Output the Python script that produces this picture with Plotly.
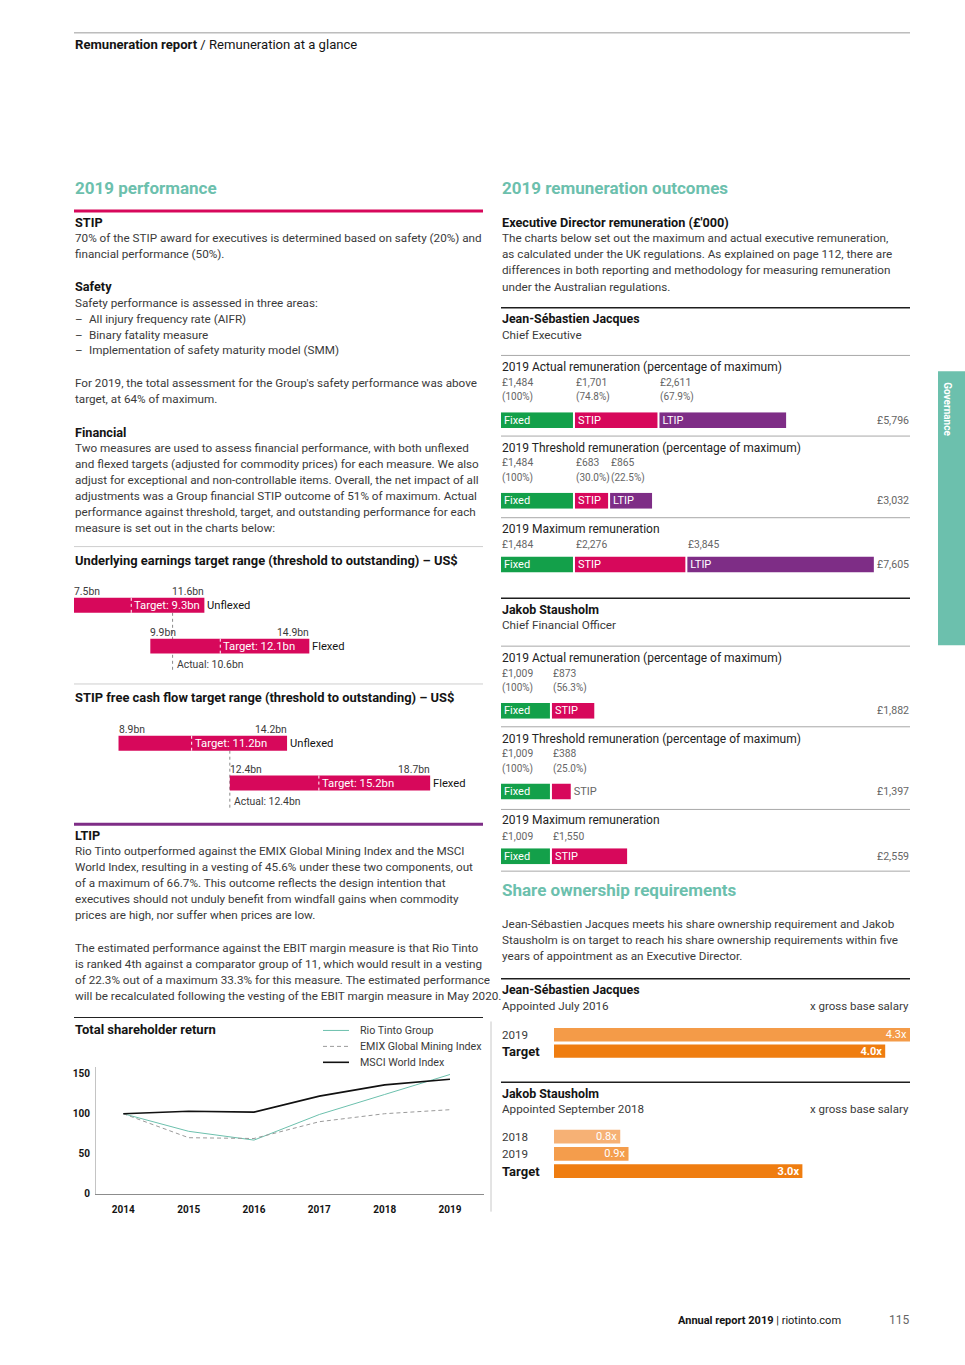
import plotly.graph_objects as go

W, H = 965, 1365
FONT = "Roboto"
BODY = "#3a3a3a"
DARK = "#141414"
GREY = "#666666"
RULE_GREY = "#a8a8a8"
TEAL = "#6cc0ad"
MAG = "#d7085b"
PURP = "#7e2d86"
GREEN = "#13a04a"
BS = 11.7   # body font size
HS = 12.7   # bold heading size

# ---------------- data ----------------
ue_cats = ["Unflexed", "Flexed"]
ue_threshold = [7.5, 9.9]
ue_target = [9.3, 12.1]
ue_outstanding = [11.6, 14.9]
ue_actual = 10.6

fcf_cats = ["Unflexed", "Flexed"]
fcf_threshold = [8.9, 12.4]
fcf_target = [11.2, 15.2]
fcf_outstanding = [14.2, 18.7]
fcf_actual = 12.4

tsr_years = [2014, 2015, 2016, 2017, 2018, 2019]
tsr_rio = [100, 78, 67, 99, 124, 149]
tsr_emix = [100, 70, 69, 90, 100, 105]
tsr_msci = [100, 103, 102, 122, 136, 143]
tsr_names = ["Rio Tinto Group", "EMIX Global Mining Index", "MSCI World Index"]

rem_components = ["Fixed", "STIP", "LTIP"]
rem_colors = [GREEN, MAG, PURP]
jsj_actual = [1484, 1701, 2611]
jsj_actual_pct = ["(100%)", "(74.8%)", "(67.9%)"]
jsj_threshold = [1484, 683, 865]
jsj_threshold_pct = ["(100%)", "(30.0%)", "(22.5%)"]
jsj_maximum = [1484, 2276, 3845]
js_actual = [1009, 873]
js_actual_pct = ["(100%)", "(56.3%)"]
js_threshold = [1009, 388]
js_threshold_pct = ["(100%)", "(25.0%)"]
js_maximum = [1009, 1550]

share_jsj_cats = ["2019", "Target"]
share_jsj_vals = [4.3, 4.0]
share_js_cats = ["2018", "2019", "Target"]
share_js_vals = [0.8, 0.9, 3.0]

# ---------------- helpers ----------------
annotations, shapes, traces = [], [], []
layout_axes = {}


def px(x):
    return x / W


def py(y):
    return 1 - y / H


def text(x, y, s, size=BS, color=BODY, anchor="left", bold=False, angle=0):
    if bold:
        s = "<b>" + s + "</b>"
    annotations.append(dict(x=px(x), y=py(y), xref="paper", yref="paper", text=s,
                            showarrow=False, xanchor=anchor, yanchor="middle", textangle=angle,
                            font=dict(family=FONT, size=size, color=color)))


def hline(x0, x1, y, color=RULE_GREY, width=1):
    shapes.append(dict(type="line", xref="paper", yref="paper", x0=px(x0), x1=px(x1),
                       y0=py(y), y1=py(y), line=dict(color=color, width=width)))


def axes(n, xdom, ydom, xr, yr, xkw=None, ykw=None, ycat=False):
    xn = "xaxis" if n == 1 else f"xaxis{n}"
    yn = "yaxis" if n == 1 else f"yaxis{n}"
    xref = "x" if n == 1 else f"x{n}"
    yref = "y" if n == 1 else f"y{n}"
    base = dict(showgrid=False, zeroline=False, showticklabels=False, showline=False, ticks="", fixedrange=True)
    xa = dict(base, domain=[px(xdom[0]), px(xdom[1])], range=xr, anchor=yref)
    ya = dict(base, domain=[py(ydom[1]), py(ydom[0])], range=yr, anchor=xref)
    if ycat:
        ya["type"] = "category"
    if xkw:
        xa.update(xkw)
    if ykw:
        ya.update(ykw)
    layout_axes[xn] = xa
    layout_axes[yn] = ya
    return xref, yref


# ---------------- header / footer ----------------
hline(74, 910, 33, "#9a9a9a", 1)
text(73, 45, "<b>Remuneration report</b> / Remuneration at a glance", 13.1, DARK)
text(676, 1326, "<b>Annual report 2019</b> | riotinto.com", 11, DARK)
text(911, 1326, "115", 12, GREY, anchor="right")

# Governance tab
shapes.append(dict(type="rect", xref="paper", yref="paper", x0=px(938), x1=px(965), y0=py(648), y1=py(373),
                   fillcolor=TEAL, line=dict(width=0)))
text(948, 411, "Governance", 10, "white", anchor="center", bold=True, angle=90)

# ---------------- left column text ----------------
LX = 73
text(LX, 189, "2019 performance", 17, TEAL, bold=True)
hline(74, 483, 212, MAG, 3)
left_lines = [
    (223, "STIP", True),
    (239, "70% of the STIP award for executives is determined based on safety (20%) and", False),
    (255, "financial performance (50%).", False),
    (288, "Safety", True),
    (304, "Safety performance is assessed in three areas:", False),
    (385, "For 2019, the total assessment for the Group's safety performance was above", False),
    (401, "target, at 64% of maximum.", False),
    (434, "Financial", True),
    (450, "Two measures are used to assess financial performance, with both unflexed", False),
    (466, "and flexed targets (adjusted for commodity prices) for each measure. We also", False),
    (482, "adjust for exceptional and non-controllable items. Overall, the net impact of all", False),
    (498, "adjustments was a Group financial STIP outcome of 51% of maximum. Actual", False),
    (514, "performance against threshold, target, and outstanding performance for each", False),
    (530, "measure is set out in the charts below:", False),
    (839, "LTIP", True),
    (855, "Rio Tinto outperformed against the EMIX Global Mining Index and the MSCI", False),
    (871, "World Index, resulting in a vesting of 45.6% under these two components, out", False),
    (887, "of a maximum of 66.7%. This outcome reflects the design intention that", False),
    (903, "executives should not unduly benefit from windfall gains when commodity", False),
    (919, "prices are high, nor suffer when prices are low.", False),
    (952, "The estimated performance against the EBIT margin measure is that Rio Tinto", False),
    (968, "is ranked 4th against a comparator group of 11, which would result in a vesting", False),
    (984, "of 22.3% out of a maximum 33.3% for this measure. The estimated performance", False),
    (1000, "will be recalculated following the vesting of the EBIT margin measure in May 2020.", False),
]
for y, s, b in left_lines:
    text(LX, y, s, HS if b else BS, DARK if b else BODY, bold=b)
for y, s in [(320, "All injury frequency rate (AIFR)"), (336, "Binary fatality measure"),
             (352, "Implementation of safety maturity model (SMM)")]:
    text(LX, y, "–", BS, BODY)
    text(87, y, s, BS, BODY)

hline(74, 483, 549, "#cfcfcf", 1)
text(LX, 563, "Underlying earnings target range (threshold to outstanding) – US$", 12.9, DARK, bold=True)
hline(74, 483, 687, "#cfcfcf", 1)
text(LX, 701, "STIP free cash flow target range (threshold to outstanding) – US$", 12.9, DARK, bold=True)
hline(74, 483, 828, PURP, 3)
hline(74, 483, 1022, "#222222", 1.2)
text(LX, 1034, "Total shareholder return", 13, DARK, bold=True)
shapes.append(dict(type="line", xref="paper", yref="paper", x0=px(491), x1=px(491), y0=py(1217), y1=py(1026),
                   line=dict(color="#c8c8c8", width=1)))

# ---------------- target range charts ----------------
BN_PX = 31.8   # pixels per US$bn
BN_X0 = 7.5    # value at left edge (px 74)
bn_range = [BN_X0, BN_X0 + (484 - 74) / BN_PX]
LBL = 10.4


def range_chart(n, ydom, yr, w, cats, thr, tgt, out, actual, actual_end):
    xr, yrf = axes(n, (74, 484), ydom, bn_range, yr, ycat=True)
    traces.append(go.Bar(y=cats, x=[o - t for o, t in zip(out, thr)], base=thr, orientation="h",
                         marker=dict(color=MAG, line=dict(width=0)), width=w, xaxis=xr, yaxis=yrf,
                         hoverinfo="skip", showlegend=False))
    for i, c in enumerate(cats):
        top = i - w / 2
        bot = i + w / 2
        shapes.append(dict(type="line", xref=xr, yref=yrf, x0=tgt[i], x1=tgt[i], y0=top, y1=bot,
                           line=dict(color="white", width=1, dash="dot")))
        annotations.append(dict(x=tgt[i], y=i, xref=xr, yref=yrf, text=f"Target: {tgt[i]}bn", showarrow=False,
                                xanchor="left", yanchor="middle", xshift=1,
                                font=dict(family=FONT, size=11.3, color="white")))
        annotations.append(dict(x=out[i], y=i, xref=xr, yref=yrf, text=c, showarrow=False,
                                xanchor="left", yanchor="middle", xshift=1,
                                font=dict(family=FONT, size=11.2, color=DARK)))
        annotations.append(dict(x=thr[i], y=top, xref=xr, yref=yrf, text=f"{thr[i]}bn", showarrow=False,
                                xanchor="left", yanchor="bottom", xshift=-2, yshift=-2,
                                font=dict(family=FONT, size=LBL, color=BODY)))
        annotations.append(dict(x=out[i], y=top, xref=xr, yref=yrf, text=f"{out[i]}bn", showarrow=False,
                                xanchor="right", yanchor="bottom", xshift=2, yshift=-2,
                                font=dict(family=FONT, size=LBL, color=BODY)))
    shapes.append(dict(type="line", xref=xr, yref=yrf, x0=actual, x1=actual, y0=w / 2, y1=actual_end,
                       layer="below", line=dict(color="#8a8a8a", width=1, dash="dot")))
    annotations.append(dict(x=actual, y=actual_end - 0.15, xref=xr, yref=yrf, text=f"Actual: {actual}bn",
                            showarrow=False, xanchor="left", yanchor="middle", xshift=2,
                            font=dict(family=FONT, size=LBL, color=BODY)))


# chart 1: bar centres at 608 / 649 px (41 px apart), domain 585..680
range_chart(1, (585, 680), [1 + (680 - 649) / 41, -(608 - 585) / 41], 15 / 41,
            ue_cats, ue_threshold, ue_target, ue_outstanding, ue_actual, 1 + 25 / 41)
# chart 2: bar centres at 746.5 / 786.5 px, domain 722..815
range_chart(2, (722, 815), [1 + (815 - 786.5) / 40, -(746.5 - 722) / 40], 15 / 40,
            fcf_cats, fcf_threshold, fcf_target, fcf_outstanding, fcf_actual, 1 + 25 / 40)

# ---------------- TSR line chart ----------------
YR_PX = 65.3
tx, ty = axes(3, (96, 484), (1072, 1199),
              [2014 - (123.3 - 96) / YR_PX, 2019 + (484 - 450) / YR_PX], [0, 158],
              xkw=dict(showline=True, linecolor="#8c8c8c", linewidth=1, showticklabels=True,
                       tickvals=tsr_years, ticklabelstandoff=6,
                       tickfont=dict(family=FONT, size=10, color=DARK, weight="bold")),
              ykw=dict(showline=True, linecolor="#c4c4c4", linewidth=1, showticklabels=True,
                       tickvals=[0, 50, 100, 150], ticklabelstandoff=3,
                       tickfont=dict(family=FONT, size=10, color=DARK, weight="bold")))
tsr_styles = [dict(color=TEAL, width=1), dict(color="#9a9a9a", width=1, dash="4px,3px"),
              dict(color="#111111", width=1.6)]
for name, vals, st in zip(tsr_names, [tsr_rio, tsr_emix, tsr_msci], tsr_styles):
    traces.append(go.Scatter(x=tsr_years, y=vals, mode="lines", line=st, name=name,
                             xaxis=tx, yaxis=ty, showlegend=False, hoverinfo="skip"))
for (name, st), ly in zip(zip(tsr_names, tsr_styles), [1035, 1051, 1067]):
    shapes.append(dict(type="line", xref="paper", yref="paper", x0=px(323), x1=px(349), y0=py(ly), y1=py(ly),
                       line=st))
    text(358, ly, name, 10.7, BODY)

# ---------------- right column ----------------
RX = 500
text(RX, 189, "2019 remuneration outcomes", 17, TEAL, bold=True)
text(RX, 223, "Executive Director remuneration (£'000)", HS, DARK, bold=True)
for y, s in [(239, "The charts below set out the maximum and actual executive remuneration,"),
             (255, "as calculated under the UK regulations. As explained on page 112, there are"),
             (271, "differences in both reporting and methodology for measuring remuneration"),
             (288, "under the Australian regulations.")]:
    text(RX, y, s, BS, BODY)

hline(501, 910, 309, "#1e1e1e", 1.5)
text(RX, 320, "Jean-Sébastien Jacques", 12.4, DARK, bold=True)
text(RX, 336, "Chief Executive", BS, BODY)
hline(501, 910, 601, "#1e1e1e", 1.5)
text(RX, 612, "Jakob Stausholm", 12.4, DARK, bold=True)
text(RX, 628, "Chief Financial Officer", BS, BODY)

REM_PX = 0.0485  # px per £'000
REM_GAP = 2 / REM_PX  # 2px white gap between segments, in data units
rem_range = [0, (910 - 501) / REM_PX]

rem_rows = [
    ("2019 Actual remuneration (percentage of maximum)", jsj_actual, jsj_actual_pct, 414),
    ("2019 Threshold remuneration (percentage of maximum)", jsj_threshold, jsj_threshold_pct, 495),
    ("2019 Maximum remuneration", jsj_maximum, None, 559),
    ("2019 Actual remuneration (percentage of maximum)", js_actual, js_actual_pct, 706),
    ("2019 Threshold remuneration (percentage of maximum)", js_threshold, js_threshold_pct, 787),
    ("2019 Maximum remuneration", js_maximum, None, 852),
]
for k, (title, vals, pcts, top) in enumerate(rem_rows):
    n = 4 + k
    bot = top + 16
    xr, yrf = axes(n, (501, 910), (top, bot), rem_range, [-0.5, 0.5], ycat=True)
    if pcts:
        hline(501, 910, top - 57)
        text(RX, top - 45, title, 12, "#222222")
        val_y, pct_y = top - 30, top - 15
    else:
        hline(501, 910, top - 39)
        text(RX, top - 28, title, 12, "#222222")
        val_y, pct_y = top - 12, None
    start = 0
    for j, v in enumerate(vals):
        seg_px = v * REM_PX
        inside = seg_px > 30
        b0 = start + j * REM_GAP
        traces.append(go.Bar(y=["r"], x=[v], base=[b0], orientation="h", xaxis=xr, yaxis=yrf, width=1,
                             marker=dict(color=rem_colors[j], line=dict(width=0)),
                             text=[rem_components[j]], textposition="inside" if inside else "outside",
                             insidetextanchor="start", constraintext="none", textangle=0, cliponaxis=False,
                             textfont=dict(family=FONT, size=11, color="white" if inside else GREY),
                             hoverinfo="skip", showlegend=False))
        annotations.append(dict(x=b0, y=py(val_y), xref=xr, yref="paper", text=f"£{v:,}", showarrow=False,
                                xanchor="left", yanchor="middle", xshift=-1,
                                font=dict(family=FONT, size=10.3, color=GREY)))
        if pcts:
            annotations.append(dict(x=b0, y=py(pct_y), xref=xr, yref="paper", text=pcts[j], showarrow=False,
                                    xanchor="left", yanchor="middle", xshift=-1,
                                    font=dict(family=FONT, size=10, color=GREY)))
        start += v
    text(911, top + 8, f"£{sum(vals):,}", 10.6, GREY, anchor="right")
hline(501, 910, 875)

# ---------------- share ownership ----------------
text(RX, 894, "Share ownership requirements", 17, TEAL, bold=True)
for y, s in [(928, "Jean-Sébastien Jacques meets his share ownership requirement and Jakob"),
             (944, "Stausholm is on target to reach his share ownership requirements within five"),
             (960, "years of appointment as an Executive Director.")]:
    text(RX, y, s, BS, BODY)

SH_PX = 82.8
sh_range = [0, (910 - 554) / SH_PX]
share_blocks = [
    ("Jean-Sébastien Jacques", "Appointed July 2016", 983, share_jsj_cats, share_jsj_vals,
     ["#f49b48", "#ef7d10"], (1031, 1064), 0.82),
    ("Jakob Stausholm", "Appointed September 2018", 1087, share_js_cats, share_js_vals,
     ["#f6b175", "#f49d4c", "#ef7d10"], (1133, 1185), 0.8),
]
for k, (name, appt, rule_y, cats, vals, cols, ydom, w) in enumerate(share_blocks):
    hline(501, 910, rule_y, "#1e1e1e", 1.5)
    text(RX, rule_y + 11, name, 12.4, DARK, bold=True)
    text(RX, rule_y + 27, appt, BS, BODY)
    text(911, rule_y + 27, "x gross base salary", 11.5, BODY, anchor="right")
    nrows = len(cats)
    xr, yrf = axes(10 + k, (554, 910), ydom, sh_range, [nrows - 0.5, -0.5], ycat=True)
    labels = [(f"<b>{v:.1f}x</b>" if c == "Target" else f"{v:.1f}x") for c, v in zip(cats, vals)]
    traces.append(go.Bar(y=cats, x=vals, orientation="h", xaxis=xr, yaxis=yrf, width=w,
                         marker=dict(color=cols, line=dict(width=0)), text=labels,
                         textposition="inside", insidetextanchor="end", constraintext="none", textangle=0,
                         textfont=dict(family=FONT, size=11, color="white"),
                         hoverinfo="skip", showlegend=False))
    for i, c in enumerate(cats):
        annotations.append(dict(x=px(RX), y=i, xref="paper", yref=yrf,
                                text=f"<b>{c}</b>" if c == "Target" else c, showarrow=False,
                                xanchor="left", yanchor="middle",
                                font=dict(family=FONT, size=13 if c == "Target" else 11.6,
                                          color=DARK if c == "Target" else BODY)))

fig = go.Figure(data=traces)
fig.update_layout(width=W, height=H, margin=dict(l=0, r=0, t=0, b=0), paper_bgcolor="white",
                  plot_bgcolor="rgba(0,0,0,0)", barmode="overlay", showlegend=False,
                  annotations=annotations, shapes=shapes, font=dict(family=FONT), **layout_axes)
fig.write_html("out.html", config={"displayModeBar": False},
               post_script="document.body.style.margin='0';")
